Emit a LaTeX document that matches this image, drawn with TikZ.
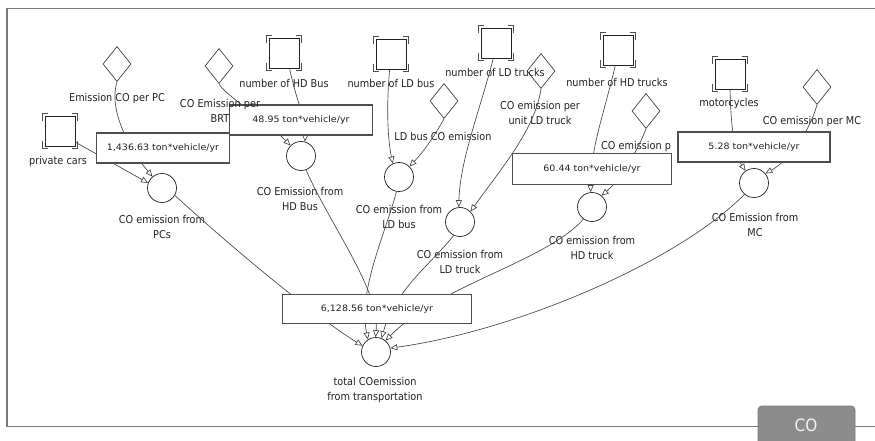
\documentclass[tikz,border=0pt]{standalone}
\usepackage{fontspec}
\setmainfont{DejaVu Sans}[FakeStretch=0.9]
\newfontfamily\boxfont{DejaVu Sans}[FakeStretch=1.08]
\usetikzlibrary{shapes.geometric,arrows.meta,calc}
\definecolor{ink}{HTML}{222222}
\definecolor{wire}{HTML}{444444}
\definecolor{frame}{HTML}{7A7A7A}
\definecolor{tabfill}{HTML}{8C8C8C}
\newcommand{\stockmarks}[1]{%
  \draw[stockmark] ($(#1.north west)+(-2,5)$) -- ++(0,-7) -- ++(5,0);
  \draw[stockmark] ($(#1.north east)+(2,5)$) -- ++(0,-7) -- ++(-5,0);
  \draw[stockmark] ($(#1.south west)+(-2,-5)$) -- ++(0,7) -- ++(5,0);
  \draw[stockmark] ($(#1.south east)+(2,-5)$) -- ++(0,7) -- ++(-5,0);}
\begin{document}
\begin{tikzpicture}[x=1pt,y=-1pt,
  stock/.style={draw=ink,line width=0.9pt,minimum size=30pt,inner sep=0pt},
  stockmark/.style={draw=ink!80,line width=1pt},
  conv/.style={diamond,draw=wire,line width=0.7pt,minimum width=28pt,minimum height=35pt,inner sep=0pt},
  aux/.style={circle,draw=ink,line width=0.7pt,minimum size=29pt,inner sep=0pt},
  valbox/.style={draw=ink!80,line width=1.1pt,fill=white,inner sep=0pt,text=ink,font=\boxfont\fontsize{8.8}{10}\selectfont},
  lbl/.style={text=ink,align=center,inner sep=0pt,font=\fontsize{10.8}{15}\selectfont},
  link/.style={draw=wire,line width=0.65pt,-{Triangle[open,length=7pt,width=6pt]}}]
\useasboundingbox (0,0) rectangle (875,441);
% frame
\draw[frame,line width=1.4pt] (875,8.5) -- (7,8.5) -- (7,426.5) -- (758,426.5);
\draw[frame,line width=1.4pt] (855,426.5) -- (875,426.5);
\draw[draw=frame,fill=tabfill,line width=0.8pt,rounded corners=4pt] (758,442) -- (758,406) -- (855,406) -- (855,442);
\node[text=white!90!gray,font=\fontsize{17}{18}\selectfont,inner sep=0pt] (tabtxt) at (806,425) {CO};

% stocks
\node[stock] (pc)  at (60,131) {};
\node[stock] (hdb) at (284,53) {};
\node[stock] (ldb) at (391,54) {};
\node[stock] (ldt) at (496,43) {};
\node[stock] (hdt) at (618,50) {};
\node[stock] (mc)  at (730,74) {};
\foreach \s in {pc,hdb,ldb,ldt,hdt,mc} {\stockmarks{\s}}

% converters
\node[conv] (epc)  at (117,64) {};
\node[conv] (brt)  at (219,66) {};
\node[conv] (ldbe) at (444,101) {};
\node[conv] (ldte) at (541,71) {};
\node[conv] (hdte) at (646,111) {};
\node[conv] (mce)  at (817,87) {};

% auxiliaries
\node[aux] (pcs)     at (162,188) {};
\node[aux] (hdbus)   at (301,156) {};
\node[aux] (ldbus)   at (399,177) {};
\node[aux] (ldtruck) at (460,222) {};
\node[aux] (hdtruck) at (592,207) {};
\node[aux] (mcflow)  at (754,183) {};
\node[aux] (tot)     at (376,352) {};

% labels
\node[lbl] (l1)  at (58,162) {private cars};
\node[lbl] (l2)  at (117,99) {Emission CO per PC};
\node[lbl] (l4)  at (284,83) {number of HD Bus};
\node[lbl] (l5)  at (391,83) {number of LD bus};
\node[lbl] (l6)  at (495,72) {number of LD trucks};
\node[lbl] (l7)  at (617,82) {number of HD trucks};
\node[lbl] (l8)  at (729,104) {motorcycles};
\node[lbl] (l9)  at (443,136) {LD bus CO emission};
\node[lbl] (l10) at (540,113) {CO emission per\\unit LD truck};
\node[lbl,anchor=west] (l11) at (601,147) {CO emission p};
\node[lbl] (l12) at (812,122) {CO emission per MC};
\node[lbl] (l13) at (162,227) {CO emission from\\PCs};
\node[lbl] (l14) at (300,199) {CO Emission from\\HD Bus};
\node[lbl] (l15) at (399,217) {CO emission from\\LD bus};
\node[lbl] (l16) at (460,262) {CO emission from\\LD truck};
\node[lbl] (l17) at (592,248) {CO emission from\\HD truck};
\node[lbl] (l18) at (755,225) {CO Emission from\\MC};
\node[lbl] (l19) at (375,390) {total COemission\\from transportation};

% connectors into the flows
\draw[link] (pc.-36) -- (pcs.160);
\draw[link] (epc.south) .. controls (108,110) and (130,150) .. (pcs.130);
\draw[link] (hdb.-70) .. controls (296,100) and (306,120) .. (hdbus.75);
\draw[link] (brt.south) .. controls (225,95) and (265,120) .. (hdbus.135);
\draw[link] (ldb.-95) .. controls (386,110) and (388,140) .. (ldbus.115);
\draw[link] (ldbe.south) .. controls (435,135) and (425,150) .. (ldbus.45);
\draw[link] (ldt.-100) .. controls (480,110) and (460,160) .. (ldtruck.95);
\draw[link] (ldte.south) .. controls (535,130) and (500,170) .. (ldtruck.45);
\draw[link] (hdt.-100) .. controls (605,110) and (590,150) .. (hdtruck.95);
\draw[link] (hdte.south) .. controls (638,150) and (620,180) .. (hdtruck.50);
\draw[link] (mc.south) .. controls (731,130) and (735,155) .. (mcflow.125);
\draw[link] (mce.south) .. controls (810,130) and (790,160) .. (mcflow.40);

% connectors into the total
\draw[link] (pcs.-30) .. controls (240,255) and (320,320) .. (tot.155);
\draw[link] (hdbus.-70) .. controls (330,225) and (380,290) .. (tot.92);
\draw[link] (ldbus.-100) .. controls (385,235) and (358,290) .. (tot.123);
\draw[link] (ldtruck.-115) .. controls (430,265) and (395,290) .. (tot.68);
\draw[link] (hdtruck.-125) .. controls (545,262) and (440,285) .. (tot.50);
\draw[link] (mcflow.-130) .. controls (680,260) and (520,330) .. (tot.15);

% value boxes
\node[valbox,minimum width=133pt,minimum height=30pt] (b1) at (163,148) {1,436.63 ton*vehicle/yr};
\node[valbox,minimum width=143pt,minimum height=30pt] (b2) at (301,120) {48.95 ton*vehicle/yr};
\node[valbox,minimum width=159pt,minimum height=31pt] (b3) at (592,169) {60.44 ton*vehicle/yr};
\node[valbox,minimum width=152pt,minimum height=30pt] (b4) at (754,147) {5.28 ton*vehicle/yr};
\node[valbox,minimum width=189pt,minimum height=29pt] (b5) at (377,309) {6,128.56 ton*vehicle/yr};

\node[lbl] (l3) at (220,111) {CO Emission per\\BRT};
\end{tikzpicture}
\end{document}
